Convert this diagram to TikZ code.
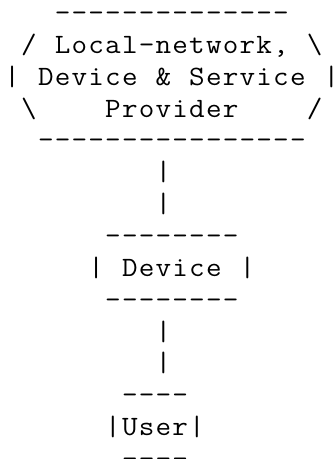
\documentclass[tikz,border=0pt]{standalone}
\usepackage{fontspec}
\setmonofont{Latin Modern Mono}
\ExplSyntaxOn
\NewDocumentCommand\cells{m}{\tl_map_inline:nn {#1} {\makebox[16.8pt]{\scalebox{1.08}[1]{##1}}}}
\ExplSyntaxOff
\begin{document}
\begin{tikzpicture}[txt/.style={font=\ttfamily\fontsize{28}{28}\selectfont, inner sep=0pt, anchor=base west}]
\useasboundingbox (0pt,0pt) rectangle (335pt,-459pt);
\begin{scope}[shift={(3.6pt,-21.5pt)}, x=16.8pt, y=-31.85pt]
% provider box
\node[txt] (pTop) at (3,0) {\cells{--------------}};
\node[txt] (pTL) at (1,1) {\cells{/}};
\node[txt] (pL1) at (3,1) {\cells{Local-network,}};
\node[txt] (pTR) at (18,1) {\cells{\textbackslash}};
\node[txt] (pML) at (0,2) {\cells{|}};
\node[txt] (pL2a) at (2,2) {\cells{Device}};
\node[txt] (pL2b) at (9,2) {\cells{\&}};
\node[txt] (pL2c) at (11,2) {\cells{Service}};
\node[txt] (pMR) at (19,2) {\cells{|}};
\node[txt] (pBL) at (1,3) {\cells{\textbackslash}};
\node[txt] (pL3) at (6,3) {\cells{Provider}};
\node[txt] (pBR) at (18,3) {\cells{/}};
\node[txt] (pBot) at (2,4) {\cells{----------------}};
% link 1
\node[txt] (l1a) at (9,5) {\cells{|}};
\node[txt] (l1b) at (9,6) {\cells{|}};
% device box
\node[txt] (dTop) at (6,7) {\cells{--------}};
\node[txt] (dL) at (5,8) {\cells{|}};
\node[txt] (dev) at (7,8) {\cells{Device}};
\node[txt] (dR) at (14,8) {\cells{|}};
\node[txt] (dBot) at (6,9) {\cells{--------}};
% link 2
\node[txt] (l2a) at (9,10) {\cells{|}};
\node[txt] (l2b) at (9,11) {\cells{|}};
% user box
\node[txt] (uTop) at (7,12) {\cells{----}};
\node[txt] (uL) at (6,13) {\cells{|}};
\node[txt] (usr) at (7,13) {\cells{User}};
\node[txt] (uR) at (11,13) {\cells{|}};
\node[txt] (uBot) at (7,14) {\cells{----}};
\end{scope}
\end{tikzpicture}
\end{document}
